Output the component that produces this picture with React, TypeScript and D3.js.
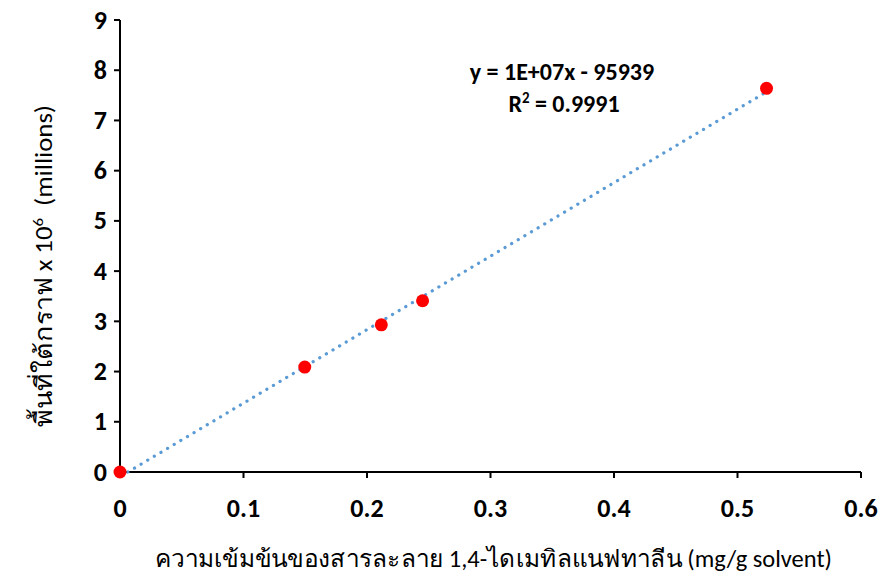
import React from "react";
import * as d3 from "d3";

const xValues = [0, 0.1496, 0.2116, 0.245, 0.5235];
const yValues = [0, 2.09, 2.93, 3.41, 7.64];
const xTicks = [0, 0.1, 0.2, 0.3, 0.4, 0.5, 0.6];
const yTicks = [0, 1, 2, 3, 4, 5, 6, 7, 8, 9];
const equationText = "y = 1E+07x - 95939";
const r2Value = "0.9991";
const xTitle = "ความเข้มข้นของสารละลาย 1,4-ไดเมทิลแนฟทาลีน (mg/g solvent)";
const yTitleMain = "พื้นที่ใต้กราฟ x 10";
const yTitleSup = "6";
const yTitleEnd = "  (millions)";

const W = 888;
const H = 574;

export default function App() {
  const x = d3.scaleLinear().domain([0, 0.6]).range([120, 861]);
  const y = d3.scaleLinear().domain([0, 9]).range([472, 20]);

  const n = xValues.length;
  const mx = d3.mean(xValues)!;
  const my = d3.mean(yValues)!;
  let sxy = 0, sxx = 0;
  for (let i = 0; i < n; i++) {
    sxy += (xValues[i] - mx) * (yValues[i] - my);
    sxx += (xValues[i] - mx) ** 2;
  }
  const slope = sxy / sxx;
  const intercept = my - slope * mx;
  const x0 = -intercept / slope;
  const x1 = d3.max(xValues)!;
  const trend = d3.line<number>().x((d) => x(d)).y((d) => y(slope * d + intercept))([x0, x1])!;

  const font = "Carlito, Lato, 'Open Sans', sans-serif";

  return (
    <svg width={W} height={H} style={{ position: "absolute", left: 0, top: 0, background: "#fff" }}>
      <rect x={0} y={0} width={W} height={H} fill="#fff" />
      {/* axes */}
      <line x1={x(0)} x2={x(0.6)} y1={y(0)} y2={y(0)} stroke="#000" strokeWidth={2} />
      <line x1={x(0)} x2={x(0)} y1={y(0)} y2={y(9)} stroke="#000" strokeWidth={2} />
      {xTicks.map((t) => (
        <g key={"xt" + t}>
          <line x1={x(t)} x2={x(t)} y1={y(0)} y2={y(0) + 6} stroke="#000" strokeWidth={2} />
          <text x={x(t)} y={517} textAnchor="middle" fontFamily={font} fontWeight="bold" fontSize={26} fill="#000">
            {t === 0 ? "0" : t.toFixed(1)}
          </text>
        </g>
      ))}
      {yTicks.map((t) => (
        <g key={"yt" + t}>
          <line x1={x(0) - 6} x2={x(0)} y1={y(t)} y2={y(t)} stroke="#000" strokeWidth={2} />
          <text x={107} y={y(t) + 8.5} textAnchor="end" fontFamily={font} fontWeight="bold" fontSize={26} fill="#000">
            {t}
          </text>
        </g>
      ))}
      {/* trendline */}
      <path d={trend} fill="none" stroke="#5B9BD5" strokeWidth={3.2} strokeDasharray="0.1 7.6" strokeLinecap="round" />
      {/* points */}
      {xValues.map((v, i) => (
        <circle key={"p" + i} cx={x(v)} cy={y(yValues[i])} r={6.5} fill="#FF0000" />
      ))}
      {/* equation */}
      <text x={562} y={80} textAnchor="middle" fontFamily={font} fontWeight="bold" fontSize={24} fill="#000">
        {equationText}
      </text>
      <text x={564} y={112} textAnchor="middle" fontFamily={font} fontWeight="bold" fontSize={24} fill="#000">
        R<tspan dy={-9} fontSize={15}>2</tspan>
        <tspan dy={9}>{" = " + r2Value}</tspan>
      </text>
      {/* axis titles */}
      <text x={155} y={567} fontFamily={font} fontSize={24} fill="#000" textLength={677} lengthAdjust="spacingAndGlyphs">
        {xTitle}
      </text>
      <text transform={`translate(52,427) rotate(-90)`} fontFamily={font} fontSize={24} fill="#000" xmlSpace="preserve" textLength={322} lengthAdjust="spacingAndGlyphs">
        <tspan>{yTitleMain}</tspan>
        <tspan dy={-9} fontSize={15}>{yTitleSup}</tspan>
        <tspan dy={9}>{yTitleEnd}</tspan>
      </text>
    </svg>
  );
}
